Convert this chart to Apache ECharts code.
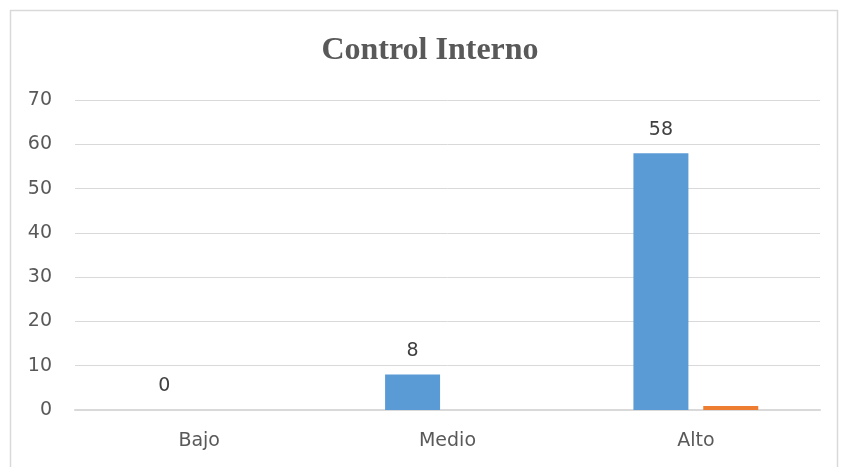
<!DOCTYPE html>
<html>
<head>
<meta charset="utf-8">
<script src="https://cdn.jsdelivr.net/npm/echarts@6/dist/echarts.min.js"></script>
<style>
  html, body { margin: 0; padding: 0; background: #fff; }
  #chart { width: 841px; height: 467px; }
</style>
</head>
<body>
<div id="chart"></div>
<script>
// Nivel de control interno: frecuencia y proporción
const categories = ['Bajo', 'Medio', 'Alto'];
const frecuencia = [0, 8, 58];
const porcentaje = [0, 0, 0.88];
const yTicks = { min: 0, max: 70, interval: 10 };

const labelFont = 'DejaVu Sans';

const chart = echarts.init(document.getElementById('chart'));
chart.setOption({
  animation: false,
  backgroundColor: '#ffffff',
  title: {
    text: 'Control Interno',
    left: 425,
    textAlign: 'center',
    top: 30,
    textStyle: {
      fontFamily: 'Liberation Serif',
      fontWeight: 'bold',
      fontSize: 32,
      color: '#595959'
    }
  },
  graphic: [{
    type: 'rect',
    shape: { x: 10.5, y: 10.5, width: 827, height: 470 },
    style: { fill: 'none', stroke: '#d9d9d9', lineWidth: 1.5 },
    silent: true,
    z: -1
  }],
  grid: { left: 75, right: 21, top: 100, bottom: 57 },
  xAxis: {
    type: 'category',
    data: categories,
    axisLine: { lineStyle: { color: '#d9d9d9', width: 2 } },
    axisTick: { show: false },
    axisLabel: {
      color: '#595959',
      fontFamily: labelFont,
      fontSize: 19,
      margin: 22
    }
  },
  yAxis: {
    type: 'value',
    min: yTicks.min,
    max: yTicks.max,
    interval: yTicks.interval,
    axisLine: { show: false },
    axisTick: { show: false },
    splitLine: { lineStyle: { color: '#d9d9d9', width: 1 } },
    axisLabel: {
      color: '#595959',
      fontFamily: labelFont,
      fontSize: 19,
      margin: 23
    }
  },
  series: [
    {
      name: 'Frecuencia',
      type: 'bar',
      data: frecuencia,
      barWidth: 55,
      barGap: '27%',
      itemStyle: { color: '#5b9bd5' },
      label: {
        show: true,
        position: 'top',
        distance: 14,
        color: '#404040',
        fontFamily: labelFont,
        fontSize: 19
      }
    },
    {
      name: 'Porcentaje',
      type: 'bar',
      data: porcentaje,
      barWidth: 55,
      itemStyle: { color: '#ed7d31' }
    }
  ]
});
</script>
</body>
</html>
